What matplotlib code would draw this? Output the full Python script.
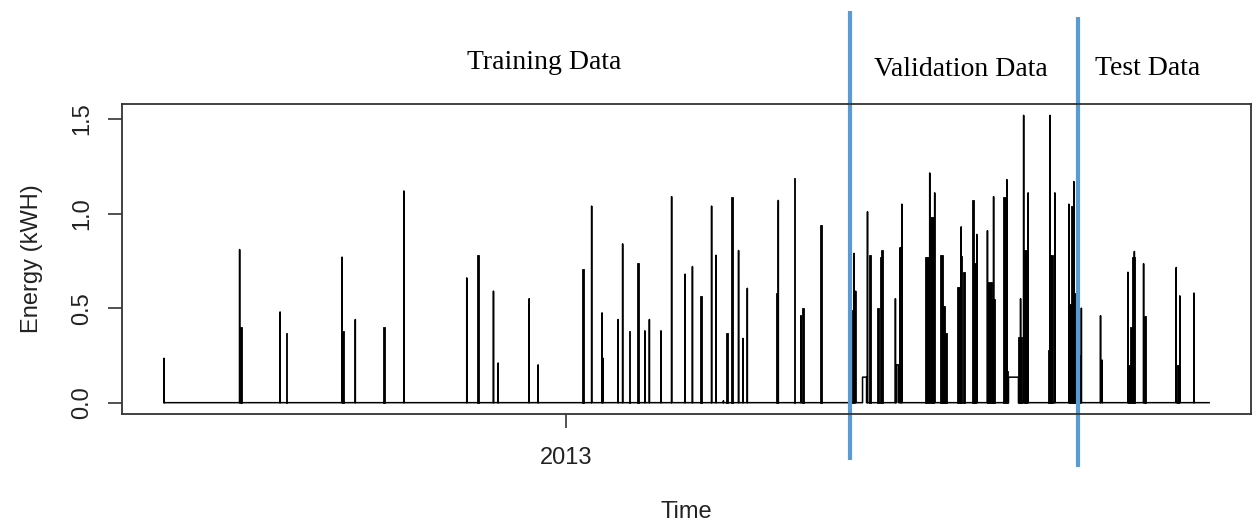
import numpy as np
import pandas as pd
import matplotlib
matplotlib.use("Agg")
import matplotlib.pyplot as plt
import matplotlib.dates as mdates

# series starts here; all positions below are days after this date
START = pd.Timestamp("2012-07-15")
END_DAY = 441.8

# thin spikes (single readings)
spike_day = [0.1, 32.0, 49.1, 75.3, 80.9, 101.4, 128.0, 139.3, 141.3, 154.4,
             158.2, 180.8, 185.2, 185.6, 192.0, 193.9, 203.3, 205.2, 210.1, 214.6,
             220.3, 223.4, 231.5, 233.4, 236.5, 242.9, 244.8, 246.6, 259.7, 269.3,
             291.7, 292.4, 297.4, 309.2, 311.2, 311.9, 323.7, 325.8, 337.0, 343.6,
             348.1, 350.7, 356.3, 362.1, 363.4, 365.3, 374.5, 376.6, 382.5, 384.6,
             387.8, 395.9, 396.6, 407.5, 410.2, 414.1, 427.9, 429.4, 435.4]
spike_kwh = [0.235, 0.81, 0.48, 0.77, 0.44, 1.12, 0.66, 0.59, 0.21, 0.55,
             0.20, 1.04, 0.475, 0.235, 0.44, 0.84, 0.38, 0.44, 0.38, 1.09,
             0.68, 0.72, 1.04, 0.78, 0.01, 0.805, 0.34, 0.605, 1.07, 0.46,
             0.79, 0.59, 1.01, 0.55, 0.82, 1.05, 1.215, 1.11, 0.93, 0.89,
             0.91, 1.09, 1.18, 0.55, 1.52, 1.11, 1.52, 1.11, 1.05, 1.17,
             0.50, 0.46, 0.225, 0.69, 0.80, 0.735, 0.715, 0.565, 0.58]

# runs of dense readings (look solid)
block_start = [32.2, 51.4, 75.4, 92.8, 132.3, 176.8, 196.4, 200.1, 226.6, 237.7,
               239.8, 258.6, 266.2, 269.8, 277.5, 290.9, 297.9, 301.4, 302.6, 303.3,
               321.6, 323.9, 328.1, 329.5, 330.2, 335.4, 336.3, 337.6, 341.6, 342.5,
               347.9, 349.9, 354.5, 356.0, 361.2, 363.4, 373.6, 374.5, 382.7, 383.3,
               384.6, 387.0, 407.5, 408.3, 409.0, 414.4, 428.3]
block_end = [32.8, 52.1, 76.0, 93.5, 133.0, 177.6, 197.1, 200.8, 227.3, 238.4,
             240.5, 259.5, 266.9, 270.4, 278.2, 291.5, 299.0, 302.2, 303.3, 304.0,
             323.2, 325.3, 329.5, 330.2, 330.8, 336.3, 337.2, 338.6, 342.5, 343.4,
             349.9, 351.2, 355.8, 356.7, 362.7, 365.0, 374.5, 375.8, 383.3, 384.6,
             385.5, 387.4, 408.3, 409.0, 410.5, 415.0, 428.9]
block_kwh = [0.40, 0.37, 0.38, 0.40, 0.78, 0.705, 0.38, 0.74, 0.565, 0.37,
             1.09, 0.58, 1.19, 0.50, 0.94, 0.49, 0.78, 0.50, 0.77, 0.81,
             0.77, 0.98, 0.78, 0.51, 0.37, 0.61, 0.775, 0.69, 1.07, 0.74,
             0.64, 0.55, 1.09, 0.17, 0.35, 0.81, 0.28, 0.78, 0.52, 1.04,
             0.58, 0.25, 0.20, 0.40, 0.77, 0.46, 0.20]

# held levels (flat segments)
plateau_start = [295.3, 309.8, 357.0]
plateau_end = [297.0, 310.6, 361.2]
plateau_kwh = [0.135, 0.20, 0.135]

# train / validation / test boundaries
split_day = [290.2, 386.2]
section_names = ["Training Data", "Validation Data", "Test Data"]
section_day = [160.7, 337.0, 415.8]


def to_date(days):
    return START + pd.to_timedelta(np.asarray(days, dtype=float), unit="D")


def build_line():
    pts = [(0.0, 0.0), (END_DAY, 0.0)]
    for d, v in zip(spike_day, spike_kwh):
        pts += [(d, 0.0), (d, v), (d + 1e-4, v), (d + 2e-4, 0.0)]
    for a, b, v in zip(plateau_start, plateau_end, plateau_kwh):
        pts += [(a, 0.0), (a + 1e-4, v), (b - 1e-4, v), (b, 0.0)]
    pts.sort(key=lambda p: p[0])
    t, y = zip(*pts)
    return np.array(t), np.array(y)


def main():
    plt.rcParams["font.family"] = ["Liberation Sans", "DejaVu Sans"]
    fig = plt.figure(figsize=(12.53, 5.26), dpi=100)
    ax = fig.add_axes([0.0974, 0.2129, 0.901, 0.5894])

    t, y = build_line()
    ax.plot(to_date(t), y, color="black", lw=1.1)

    widths = np.array(block_end) - np.array(block_start)
    ax.bar(to_date(block_start), block_kwh, width=widths, align="edge",
           color="black", linewidth=0.6, edgecolor="black")

    ax.set_xlim(to_date([-17.7])[0], to_date([459.5])[0])
    ax.set_ylim(-0.06, 1.58)

    ax.xaxis.set_major_locator(mdates.YearLocator())
    ax.xaxis.set_major_formatter(mdates.DateFormatter("%Y"))
    ax.set_yticks([0.0, 0.5, 1.0, 1.5])
    ax.set_yticklabels(["0.0", "0.5", "1.0", "1.5"], rotation=90, va="center")
    ax.tick_params(axis="both", length=10, width=1.1, labelsize=17,
                   colors="#222222")
    ax.tick_params(axis="x", pad=14)
    ax.tick_params(axis="y", pad=11)
    for s in ax.spines.values():
        s.set_color("#333333")
        s.set_linewidth(1.3)

    ax.set_xlabel("Time", fontsize=17, labelpad=23, color="#222222")
    ax.set_ylabel("Energy (kWH)", fontsize=17, labelpad=20, color="#222222")

    # split lines run past the plot box
    tr = ax.get_xaxis_transform()
    spans = [(-0.148, 1.301), (-0.17, 1.28)]
    for d, (lo, hi) in zip(split_day, spans):
        x = to_date([d])[0]
        ax.plot([x, x], [lo, hi], color="#5B9BD5", lw=3, transform=tr,
                clip_on=False, solid_capstyle="butt")

    text_y = [1.133, 1.112, 1.116]
    for name, d, ty in zip(section_names, section_day, text_y):
        ax.text(to_date([d])[0], ty, name, transform=tr, ha="center",
                va="center", fontsize=20, family=["Liberation Serif", "DejaVu Serif"],
                color="black")

    fig.savefig("out.png", dpi=100)
    plt.close(fig)


if __name__ == "__main__":
    main()
